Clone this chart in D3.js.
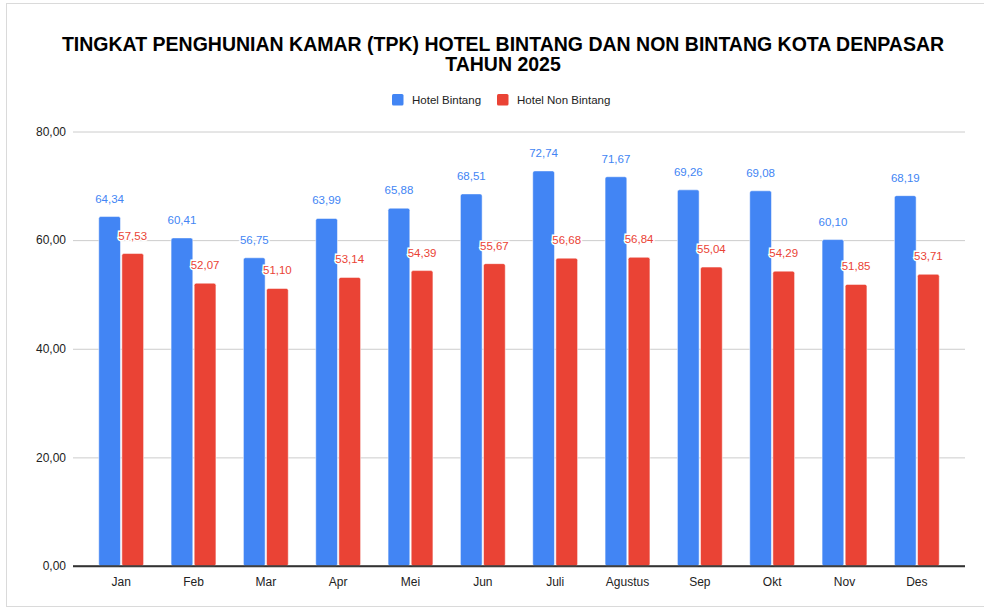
<!DOCTYPE html>
<html>
<head>
<meta charset="utf-8">
<script src="https://cdn.jsdelivr.net/npm/d3@7"></script>
<style>
  body { margin: 0; background: #fff; }
  svg { font-family: Arial, "Liberation Sans", sans-serif; display: block; }
</style>
</head>
<body>
<svg id="chart"></svg>
<script>
// Chart data
const months = ["Jan", "Feb", "Mar", "Apr", "Mei", "Jun", "Juli", "Agustus", "Sep", "Okt", "Nov", "Des"];
const hotelBintang = [64.34, 60.41, 56.75, 63.99, 65.88, 68.51, 72.74, 71.67, 69.26, 69.08, 60.10, 68.19];
const hotelNonBintang = [57.53, 52.07, 51.10, 53.14, 54.39, 55.67, 56.68, 56.84, 55.04, 54.29, 51.85, 53.71];
const seriesNames = ["Hotel Bintang", "Hotel Non Bintang"];
const yTicks = [0, 20, 40, 60, 80];

const width = 984;
const height = 610;
const colors = ["#4285f4", "#ea4335"];

const fmt = v => v.toFixed(2).replace(".", ",");

const data = months.map((m, i) => ({ month: m, values: [hotelBintang[i], hotelNonBintang[i]] }));

const svg = d3.select("#chart")
    .attr("width", width)
    .attr("height", height)
    .attr("viewBox", [0, 0, width, height]);

// outer frame (runs off the right edge like the original)
svg.append("rect")
    .attr("x", 6.5).attr("y", 3.5)
    .attr("width", 1000).attr("height", 603)
    .attr("fill", "none")
    .attr("stroke", "#dadada");

// scales
const x = d3.scaleBand()
    .domain(months)
    .range([85, 953])
    .paddingInner(0.38)
    .paddingOuter(0.19);

const x1 = d3.scaleBand()
    .domain([0, 1])
    .range([0, x.bandwidth()])
    .paddingInner(0.06);

const y = d3.scaleLinear()
    .domain([0, 80])
    .range([566, 131.5]);

// title
const title = svg.append("text")
    .attr("text-anchor", "middle")
    .attr("font-weight", "bold")
    .attr("font-size", 19.5)
    .attr("fill", "#000");
title.append("tspan").attr("x", 503).attr("y", 51)
    .text("TINGKAT PENGHUNIAN KAMAR (TPK) HOTEL BINTANG DAN NON BINTANG KOTA DENPASAR");
title.append("tspan").attr("x", 503).attr("y", 71).text("TAHUN 2025");

// legend
const legendPos = [392, 497];
const legend = svg.append("g").selectAll("g")
    .data(seriesNames)
    .join("g")
    .attr("transform", (d, i) => `translate(${legendPos[i]},94)`);
legend.append("rect")
    .attr("width", 11.5).attr("height", 11.5).attr("rx", 1.5)
    .attr("fill", (d, i) => colors[i]);
legend.append("text")
    .attr("x", 20).attr("y", 10)
    .attr("font-size", 11.5)
    .attr("fill", "#222")
    .text(d => d);

// y axis + gridlines
svg.append("g")
    .attr("transform", "translate(73,0)")
    .call(d3.axisLeft(y).tickValues(yTicks).tickSize(-892).tickFormat(fmt).tickPadding(7))
    .call(g => g.select(".domain").remove())
    .call(g => g.selectAll(".tick line")
        .attr("stroke", d => d === 0 ? "#333" : "#ccc")
        .attr("stroke-width", d => d === 0 ? 1.3 : 1))
    .call(g => g.selectAll(".tick text")
        .attr("font-size", 12)
        .attr("fill", "#222")
        .attr("font-family", "Arial, 'Liberation Sans', sans-serif"));

// bars
const groups = svg.append("g").selectAll("g")
    .data(data)
    .join("g")
    .attr("transform", d => `translate(${x(d.month)},0)`);

groups.selectAll("rect")
    .data(d => d.values.map((v, i) => ({ v, i })))
    .join("rect")
    .attr("x", d => x1(d.i))
    .attr("y", d => y(d.v))
    .attr("width", x1.bandwidth())
    .attr("height", d => y(0) - y(d.v))
    .attr("rx", 2)
    .attr("fill", d => colors[d.i])
    .attr("stroke", "#fff")
    .attr("stroke-opacity", 0.5)
    .attr("stroke-width", 1);

// redraw baseline on top of bars
svg.append("line")
    .attr("x1", 73).attr("x2", 965)
    .attr("y1", y(0)).attr("y2", y(0))
    .attr("stroke", "#333").attr("stroke-width", 1.3);

// value labels
groups.selectAll("text.val")
    .data(d => d.values.map((v, i) => ({ v, i })))
    .join("text")
    .attr("class", "val")
    .attr("x", d => x1(d.i) + x1.bandwidth() / 2)
    .attr("y", d => y(d.v) - 14)
    .attr("text-anchor", "middle")
    .attr("font-size", 11.5)
    .attr("fill", d => colors[d.i])
    .attr("stroke", "#fff")
    .attr("stroke-width", 3)
    .attr("paint-order", "stroke")
    .text(d => fmt(d.v));

// x axis labels
svg.append("g")
    .attr("transform", `translate(0,${y(0)})`)
    .call(d3.axisBottom(x).tickSize(0).tickPadding(11))
    .call(g => g.select(".domain").remove())
    .call(g => g.selectAll(".tick text")
        .attr("font-size", 12)
        .attr("fill", "#222")
        .attr("font-family", "Arial, 'Liberation Sans', sans-serif"));
</script>
</body>
</html>
